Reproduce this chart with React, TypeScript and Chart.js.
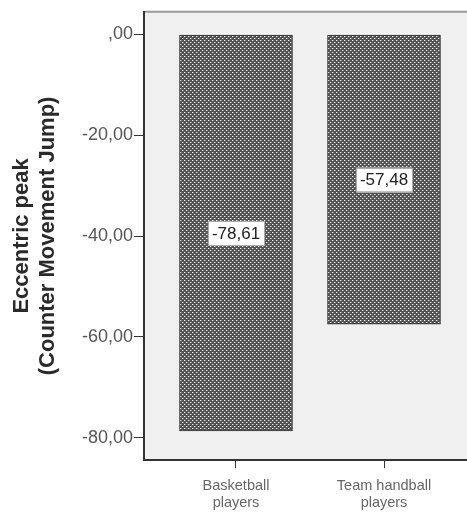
import React, { useEffect, useRef } from 'react';
import { Chart, registerables } from 'chart.js';
Chart.register(...registerables);

const categories: string[][] = [['Basketball', 'players'], ['Team handball', 'players']];
const values: number[] = [-78.61, -57.48];
const valueLabels: string[] = ['-78,61', '-57,48'];
const yTicks: number[] = [0, -20, -40, -60, -80];
const yTickLabels: string[] = [',00', '-20,00', '-40,00', '-60,00', '-80,00'];
const yTitle: string[] = ['Eccentric peak', '(Counter Movement Jump)'];

const FONT = "'Liberation Sans', Arial, sans-serif";

function makePattern(): CanvasPattern | string {
  const c = document.createElement('canvas');
  c.width = 4;
  c.height = 4;
  const ctx = c.getContext('2d');
  if (!ctx) return '#666';
  ctx.fillStyle = '#525252';
  ctx.fillRect(0, 0, 4, 4);
  ctx.fillStyle = '#f4f4f4';
  ctx.fillRect(0, 0, 1, 1);
  ctx.fillRect(2, 2, 1, 1);
  ctx.fillStyle = '#8a8a8a';
  ctx.fillRect(1, 0, 1, 1);
  ctx.fillRect(3, 2, 1, 1);
  return ctx.createPattern(c, 'repeat') || '#666';
}

const bgPlugin = {
  id: 'bgPlugin',
  beforeDraw(chart: any) {
    const { ctx, chartArea } = chart;
    ctx.save();
    ctx.fillStyle = '#f0f0f0';
    ctx.fillRect(chartArea.left, chartArea.top, chartArea.right - chartArea.left, chartArea.bottom - chartArea.top);
    ctx.strokeStyle = '#999';
    ctx.lineWidth = 2;
    ctx.beginPath();
    ctx.moveTo(chartArea.left, chartArea.top);
    ctx.lineTo(chartArea.right, chartArea.top);
    ctx.stroke();
    ctx.restore();
  },
};

const labelPlugin = {
  id: 'labelPlugin',
  afterDatasetsDraw(chart: any) {
    const { ctx } = chart;
    const meta = chart.getDatasetMeta(0);
    ctx.save();
    ctx.font = `17px ${FONT}`;
    ctx.textAlign = 'center';
    ctx.textBaseline = 'middle';
    meta.data.forEach((bar: any, i: number) => {
      const text = valueLabels[i];
      const cx = bar.x;
      const cy = (bar.y + bar.base) / 2;
      const w = ctx.measureText(text).width + 8;
      const h = 24;
      ctx.fillStyle = '#ffffff';
      ctx.fillRect(cx - w / 2, cy - h / 2, w, h);
      ctx.strokeStyle = '#aaa';
      ctx.lineWidth = 1;
      ctx.strokeRect(Math.round(cx - w / 2) + 0.5, Math.round(cy - h / 2) + 0.5, Math.round(w), h);
      ctx.fillStyle = '#222';
      ctx.fillText(text, cx, cy + 1);
    });
    ctx.restore();
  },
};

export default function App() {
  const ref = useRef<HTMLCanvasElement>(null);
  useEffect(() => {
    if (!ref.current) return;
    const chart = new Chart(ref.current, {
      type: 'bar',
      data: {
        datasets: [
          {
            data: values.map((v, i) => ({ x: i, y: v })),
            backgroundColor: makePattern() as any,
            borderColor: '#333',
            borderWidth: 1,
            borderSkipped: false,
            barThickness: 113,
          },
        ],
      },
      options: {
        responsive: false,
        animation: false,
        devicePixelRatio: 1,
        layout: { padding: { top: 10, right: 24, left: 0, bottom: 0 } },
        plugins: { legend: { display: false }, tooltip: { enabled: false } },
        scales: {
          x: {
            type: 'linear',
            offset: false,
            min: -0.6216,
            max: 1.6216,
            position: 'bottom',
            afterBuildTicks: (s: any) => {
              s.ticks = categories.map((_, i) => ({ value: i }));
            },
            afterFit: (s: any) => {
              s.height = 53;
            },
            ticks: {
              callback: (v: any) => categories[v as number],
              font: { family: FONT, size: 14.5, lineHeight: 1.17 },
              color: '#666',
              padding: 10,
              maxRotation: 0,
              autoSkip: false,
            },
            grid: { offset: false, drawOnChartArea: false, drawTicks: true, tickLength: 8, color: '#333' },
            border: { display: true, color: '#333', width: 2 },
          },
          y: {
            min: -84.4,
            max: 4.5,
            afterBuildTicks: (s: any) => {
              s.ticks = yTicks.map((v) => ({ value: v }));
            },
            afterFit: (s: any) => {
              s.width = 144;
            },
            ticks: {
              callback: (v: any) => yTickLabels[yTicks.indexOf(v as number)],
              font: { family: FONT, size: 18 },
              color: '#555',
              padding: 1,
            },
            grid: { drawOnChartArea: false, drawTicks: true, tickLength: 10, color: '#333' },
            border: { display: true, color: '#333', width: 2 },
            title: {
              display: true,
              text: yTitle,
              font: { family: FONT, size: 22, weight: 'bold', lineHeight: 1.18 },
              color: '#2a2a2a',
              padding: { top: 9, bottom: 0 },
            },
          },
        },
      },
      plugins: [bgPlugin, labelPlugin],
    } as any);
    return () => chart.destroy();
  }, []);
  return (
    <div style={{ position: 'absolute', left: 0, top: 0, width: 467, height: 513, overflow: 'hidden' }}>
      <canvas ref={ref} width={500} height={513} style={{ display: 'block', width: 500, height: 513 }} />
    </div>
  );
}
